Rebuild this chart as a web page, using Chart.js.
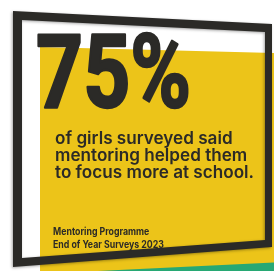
<!DOCTYPE html>
<html>
<head>
<meta charset="utf-8">
<script src="https://cdn.jsdelivr.net/npm/chart.js@4.4.1/dist/chart.umd.min.js"></script>
<style>
  html, body { margin: 0; padding: 0; background: #fff; }
  #wrap { width: 274px; height: 271px; }
</style>
</head>
<body>
<div id="wrap"><canvas id="statChart" width="274" height="271"></canvas></div>
<script>
// values shown on the card
const statValues = [75];
const statUnit = "%";
const captionLines = ["of girls surveyed said", "mentoring helped them", "to focus more at school."];
const sourceLines = ["Mentoring Programme", "End of Year Surveys 2023"];

const dark = "#2b2a27";
const yellow = "#ecc419";
const green = "#27a874";

function poly(ctx, pts) {
    ctx.moveTo(pts[0][0], pts[0][1]);
    for (let i = 1; i < pts.length; i++) ctx.lineTo(pts[i][0], pts[i][1]);
    ctx.closePath();
}

// draws the text squeezed to a given width, optional stroke to make it heavier
function fitText(ctx, text, x, y, font, width, stroke) {
    ctx.font = font;
    const w = ctx.measureText(text).width;
    ctx.save();
    ctx.translate(x, y);
    ctx.scale(width / w, 1);
    ctx.fillText(text, 0, 0);
    if (stroke) {
        ctx.lineWidth = stroke;
        ctx.lineJoin = "round";
        ctx.strokeStyle = ctx.fillStyle;
        ctx.strokeText(text, 0, 0);
    }
    ctx.restore();
}

const cardPlugin = {
    id: "card",
    beforeDraw(chart) {
        const ctx = chart.ctx;
        ctx.save();
        ctx.fillStyle = "#fff";
        ctx.fillRect(0, 0, chart.width, chart.height);

        // yellow panel
        ctx.fillStyle = yellow;
        ctx.beginPath();
        poly(ctx, [[40, 47], [274, 53], [274, 271], [40, 271]]);
        ctx.fill();

        // green strip
        ctx.fillStyle = green;
        ctx.beginPath();
        poly(ctx, [[98, 271], [274, 262.5], [274, 271]]);
        ctx.fill();

        // tilted frame
        ctx.shadowColor = "rgba(0,0,0,0.35)";
        ctx.shadowBlur = 3;
        ctx.shadowOffsetX = -1;
        ctx.shadowOffsetY = 1;
        ctx.fillStyle = dark;
        ctx.beginPath();
        poly(ctx, [[13, 11], [272, 24], [272, 247], [13, 267]]);
        poly(ctx, [[22, 20], [22, 258], [265, 240], [265, 32]]);
        ctx.fill("evenodd");
        ctx.restore();
    },
    afterDraw(chart) {
        const ctx = chart.ctx;
        ctx.save();
        ctx.fillStyle = dark;
        ctx.textBaseline = "alphabetic";
        ctx.textAlign = "left";

        fitText(ctx, statValues[0] + statUnit, 36, 107, "bold 102px Roboto", 155, 2.5);

        // caption lines share one squeeze factor
        ctx.font = "600 17px Inter";
        const sx = 199 / ctx.measureText(captionLines[2]).width;
        captionLines.forEach((line, i) => {
            const w = ctx.measureText(line).width * sx;
            fitText(ctx, line, 55, 144 + i * 17, "600 17px Inter", w);
        });

        ctx.font = "bold 10px Inter";
        const ss = 111 / ctx.measureText(sourceLines[1]).width;
        sourceLines.forEach((line, i) => {
            const w = ctx.measureText(line).width * ss;
            fitText(ctx, line, 53, 235 + i * 12.5, "bold 10px Inter", w);
        });
        ctx.restore();
    }
};

const chart = new Chart(document.getElementById("statChart").getContext("2d"), {
    type: "bar",
    data: {
        labels: [""],
        datasets: [{ data: [], backgroundColor: yellow }]
    },
    options: {
        responsive: false,
        animation: false,
        devicePixelRatio: 1,
        plugins: { legend: { display: false }, tooltip: { enabled: false } },
        scales: { x: { display: false }, y: { display: false, min: 0, max: 100 } }
    },
    plugins: [cardPlugin]
});
</script>
</body>
</html>
